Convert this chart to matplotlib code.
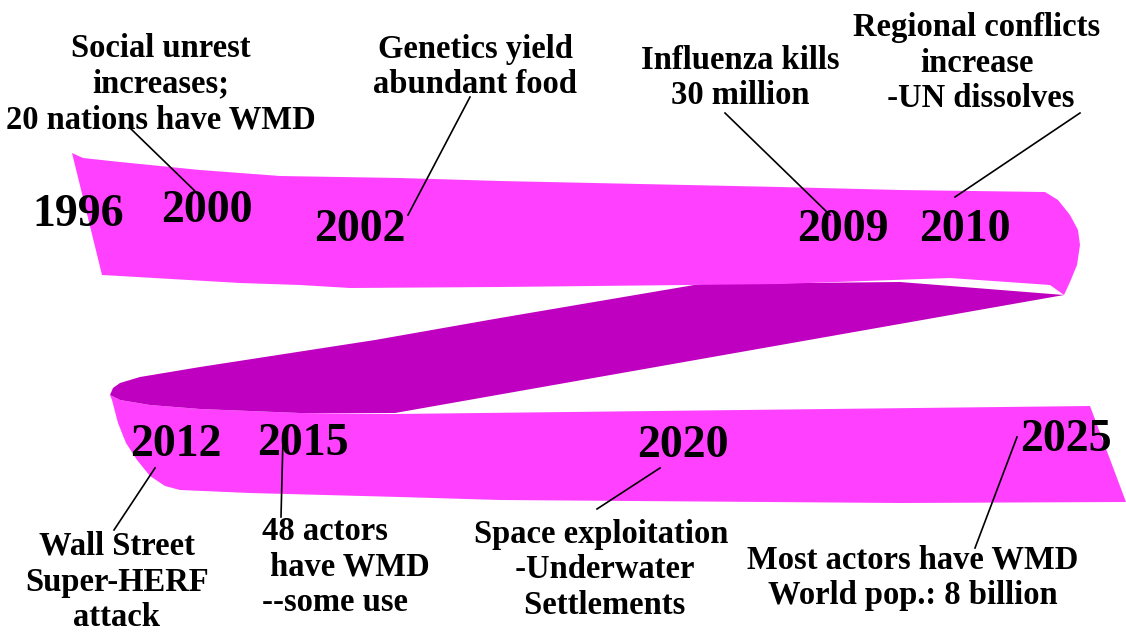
import matplotlib
matplotlib.use("Agg")
import matplotlib.pyplot as plt
from matplotlib.patches import Polygon

# ---- data ----
years = ["1996", "2000", "2002", "2009", "2010", "2012", "2015", "2020", "2025"]
year_x = [78, 207, 360, 843, 965, 176, 303, 683, 1066]
year_y = [215, 211, 230, 230, 230, 445, 444, 446, 440]

events = [
    "Social unrest\nincreases;\n20 nations have WMD",
    "Genetics yield\nabundant food",
    "Influenza kills\n30 million",
    "Regional conflicts\nincrease\n -UN dissolves",
    "Wall Street\nSuper-HERF\nattack",
    "48 actors\n have WMD\n--some use",
    "Space exploitation\n -Underwater\n Settlements",
    "Most actors have WMD\nWorld pop.: 8 billion",
]
event_x = [161, 475, 740, 977, 117, 262, 601, 913]
event_y = [84, 67, 78, 63, 582, 567, 570, 578]
event_ha = ["center", "center", "center", "center", "center", "left", "center", "center"]

# leader lines (start -> end)
lead_x0 = [130, 470, 725, 1080, 155, 283, 660, 1017]
lead_y0 = [128, 97, 113, 113, 468, 438, 468, 437]
lead_x1 = [197, 408, 830, 955, 114, 281, 597, 975]
lead_y1 = [193, 215, 215, 197, 530, 517, 509, 548]

# ribbon outlines
top_x = [72, 83, 120, 160, 200, 240, 280, 400, 500, 780, 900, 1045, 1058, 1070, 1078, 1080,
         1077, 1070, 1064, 1050, 950, 780, 500, 350, 300, 240, 120, 102]
top_y = [153, 158, 162, 166, 170, 173, 176, 178, 181, 187, 190, 192, 200, 215, 230, 245,
         265, 282, 295, 285, 278, 284, 287, 288, 285, 283, 276, 275]

dark_x = [110, 113, 120, 140, 200, 375, 500, 700, 900, 1064, 395, 300, 200, 150, 120]
dark_y = [395, 388, 383, 377, 367, 340, 318, 284, 282, 295, 413, 413, 409, 405, 400]

bot_x = [110, 120, 150, 200, 300, 395, 1090, 1126, 900, 500, 400, 250, 180, 165, 150, 137, 126, 118, 112]
bot_y = [395, 400, 405, 409, 413, 414, 406, 502, 503, 500, 497, 493, 490, 486, 476, 460, 443, 423, 400]

light = "#FF40FF"
dark = "#C000C0"

plt.rcParams['font.family'] = ['Liberation Serif', 'DejaVu Serif']

fig = plt.figure(figsize=(11.26, 6.35), dpi=100)
ax = fig.add_axes([0, 0, 1, 1])
ax.set_xlim(0, 1126)
ax.set_ylim(635, 0)
ax.axis("off")

ax.add_patch(Polygon(list(zip(bot_x, bot_y)), closed=True, fc=light, ec="none", zorder=1))
ax.add_patch(Polygon(list(zip(dark_x, dark_y)), closed=True, fc=dark, ec="none", zorder=2))
ax.add_patch(Polygon(list(zip(top_x, top_y)), closed=True, fc=light, ec="none", zorder=3))

for x0, y0, x1, y1 in zip(lead_x0, lead_y0, lead_x1, lead_y1):
    ax.plot([x0, x1], [y0, y1], color="black", lw=1.2, zorder=4)

for t, x, y in zip(years, year_x, year_y):
    ax.text(x, y, t, ha="center", va="center", fontsize=33, fontweight="bold",
            color="black", zorder=5)

for t, x, y, ha in zip(events, event_x, event_y, event_ha):
    ax.text(x, y, t, ha=ha, va="center", multialignment=ha, fontsize=23.5,
            fontweight="bold", color="black", linespacing=1.2, zorder=5)

fig.savefig("out.png", dpi=100, facecolor="white")
